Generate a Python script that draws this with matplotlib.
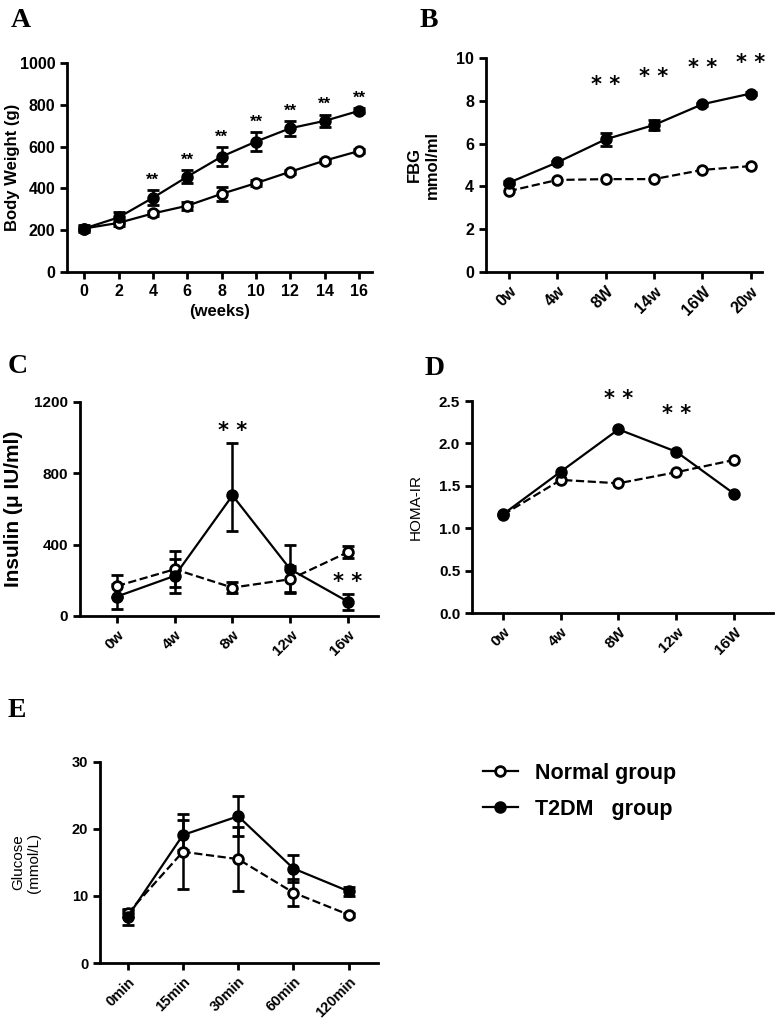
import matplotlib
matplotlib.use("Agg")
import matplotlib.pyplot as plt
from matplotlib.lines import Line2D
import numpy as np

plt.rcParams['font.family'] = ['Liberation Sans', 'DejaVu Sans']
plt.rcParams['font.weight'] = 'bold'

# ---------------- data ----------------
# Panel A: body weight
a_weeks = [0, 2, 4, 6, 8, 10, 12, 14, 16]
a_normal = [208, 235, 280, 317, 374, 425, 480, 533, 579]
a_normal_err = [15, 15, 12, 20, 35, 15, 10, 10, 10]
a_t2dm = [208, 261, 355, 456, 552, 624, 688, 723, 771]
a_t2dm_err = [12, 25, 35, 30, 45, 45, 35, 30, 12]
a_star_weeks = [4, 6, 8, 10, 12, 14, 16]

# Panel B: FBG
b_labels = ['0w', '4w', '8W', '14w', '16W', '20w']
b_normal = [3.78, 4.30, 4.34, 4.34, 4.77, 4.95]
b_t2dm = [4.17, 5.12, 6.20, 6.87, 7.84, 8.34]
b_t2dm_err = [0.08, 0.08, 0.30, 0.25, 0.08, 0.08]
b_star_idx = [2, 3, 4, 5]
b_star_y = [8.75, 9.1, 9.53, 9.77]

# Panel C: insulin
c_labels = ['0w', '4w', '8w', '12w', '16w']
c_normal = [168, 262, 159, 206, 358]
c_normal_err = [60, 100, 33, 73, 35]
c_t2dm = [109, 225, 676, 262, 80]
c_t2dm_err_low = [70, 95, 199, 135, 45]
c_t2dm_err_high = [70, 95, 294, 137, 45]
c_star_idx = [2, 4]
c_star_y = [1035, 193]

# Panel D: HOMA-IR
d_labels = ['0w', '4w', '8W', '12w', '16W']
d_normal = [1.16, 1.57, 1.53, 1.66, 1.805]
d_t2dm = [1.166, 1.668, 2.166, 1.903, 1.409]
d_star_idx = [2, 3]
d_star_y = [2.53, 2.35]

# Panel E: glucose tolerance
e_labels = ['0min', '15min', '30min', '60min', '120min']
e_normal = [7.4, 16.6, 15.5, 10.5, 7.2]
e_normal_err = [0.5, 5.6, 4.8, 2.0, 0.3]
e_t2dm = [6.9, 19.1, 21.9, 14.1, 10.7]
e_t2dm_err = [1.2, 2.3, 3.0, 2.0, 0.7]

# ---------------- figure ----------------
fig = plt.figure(figsize=(7.77, 10.21), dpi=100)

LW = 1.6
MS = 7


def style_axes(ax, fs=10):
    for s in ['top', 'right']:
        ax.spines[s].set_visible(False)
    for s in ['left', 'bottom']:
        ax.spines[s].set_linewidth(2.0)
    ax.tick_params(axis='both', width=2.0, length=5, labelsize=fs, direction='out')
    for lab in ax.get_xticklabels() + ax.get_yticklabels():
        lab.set_fontweight('bold')


def plot_series(ax, x, y, err=None, dashed=False, filled=False):
    ls = '--' if dashed else '-'
    mfc = 'black' if filled else 'white'
    ax.errorbar(x, y, yerr=err, color='black', ls=ls, lw=LW, marker='o', ms=MS,
                mfc=mfc, mec='black', mew=2.0, capsize=4, capthick=2.0,
                elinewidth=1.8, clip_on=False, zorder=3)


def rot_labels(ax, labels, fs=10):
    ax.set_xticks(range(len(labels)))
    ax.set_xticklabels(labels, rotation=45, ha='right', va='top',
                       rotation_mode='anchor', fontsize=fs, fontweight='bold')


# ---- A ----
axA = fig.add_axes([0.0862, 0.7336, 0.3925, 0.2047])
plot_series(axA, a_weeks, a_normal, a_normal_err, filled=False)
plot_series(axA, a_weeks, a_t2dm, a_t2dm_err, filled=True)
for w in a_star_weeks:
    i = a_weeks.index(w)
    axA.text(w, a_t2dm[i] + a_t2dm_err[i] + 12, '**', ha='center', va='bottom',
             fontsize=12, fontweight='bold')
axA.set_xlim(-1.0, 16.75)
axA.set_ylim(0, 1000)
axA.set_xticks(a_weeks)
axA.set_yticks([0, 200, 400, 600, 800, 1000])
axA.set_xlabel('(weeks)', fontsize=12, fontweight='bold')
axA.set_ylabel('Body Weight (g)', fontsize=12, fontweight='bold')
axA.yaxis.set_label_coords(-0.155, 0.5)
style_axes(axA, 11.5)

# ---- B ----
axB = fig.add_axes([0.6255, 0.7336, 0.3552, 0.2096])
xb = np.arange(len(b_labels))
plot_series(axB, xb, b_normal, None, dashed=True, filled=False)
plot_series(axB, xb, b_t2dm, b_t2dm_err, filled=True)
for i, yv in zip(b_star_idx, b_star_y):
    axB.text(i, yv, '* *', ha='center', va='center', fontsize=15,
             fontweight='bold', family='DejaVu Sans')
axB.set_xlim(-0.47, 5.23)
axB.set_ylim(0, 10)
axB.set_yticks([0, 2, 4, 6, 8, 10])
rot_labels(axB, b_labels, 11.5)
axB.set_ylabel('FBG\nmmol/ml', fontsize=12, fontweight='bold', labelpad=12)
style_axes(axB, 11.5)

# ---- C ----
axC = fig.add_axes([0.103, 0.3967, 0.3835, 0.2096])
xc = np.arange(len(c_labels))
plot_series(axC, xc, c_normal, c_normal_err, dashed=True, filled=False)
plot_series(axC, xc, c_t2dm, [c_t2dm_err_low, c_t2dm_err_high], filled=True)
for i, yv in zip(c_star_idx, c_star_y):
    axC.text(i, yv, '* *', ha='center', va='center', fontsize=15,
             fontweight='bold', family='DejaVu Sans')
axC.set_xlim(-0.64, 4.52)
axC.set_ylim(0, 1200)
axC.set_yticks([0, 400, 800, 1200])
rot_labels(axC, c_labels, 11)
axC.set_ylabel('Insulin (μ IU/ml)', fontsize=15, fontweight='bold', labelpad=8)
style_axes(axC, 11)

# ---- D ----
axD = fig.add_axes([0.6075, 0.3996, 0.3874, 0.2076])
xd = np.arange(len(d_labels))
plot_series(axD, xd, d_normal, None, dashed=True, filled=False)
plot_series(axD, xd, d_t2dm, None, filled=True)
for i, yv in zip(d_star_idx, d_star_y):
    axD.text(i, yv, '* *', ha='center', va='center', fontsize=15,
             fontweight='bold', family='DejaVu Sans', clip_on=False)
axD.set_xlim(-0.54, 4.68)
axD.set_ylim(0, 2.5)
axD.set_yticks([0.0, 0.5, 1.0, 1.5, 2.0, 2.5])
axD.set_yticklabels(['0.0', '0.5', '1.0', '1.5', '2.0', '2.5'])
rot_labels(axD, d_labels, 11)
axD.set_ylabel('HOMA-IR', fontsize=11, fontweight='normal', labelpad=12)
style_axes(axD, 11)

# ---- E ----
axE = fig.add_axes([0.1287, 0.0568, 0.3578, 0.1969])
xe = np.arange(len(e_labels))
plot_series(axE, xe, e_normal, e_normal_err, dashed=True, filled=False)
plot_series(axE, xe, e_t2dm, e_t2dm_err, filled=True)
axE.set_xlim(-0.5, 4.53)
axE.set_ylim(0, 30)
axE.set_yticks([0, 10, 20, 30])
rot_labels(axE, e_labels, 10.5)
axE.set_ylabel('Glucose\n(mmol/L)', fontsize=11, fontweight='normal', labelpad=22)
style_axes(axE, 10.5)

# ---- legend ----
handles = [
    Line2D([0], [0], color='black', lw=LW, marker='o', ms=MS, mfc='white',
           mec='black', mew=2.0),
    Line2D([0], [0], color='black', lw=LW, marker='o', ms=MS, mfc='black',
           mec='black', mew=2.0),
]
fig.legend(handles, ['Normal group', 'T2DM   group'], loc='center left',
           bbox_to_anchor=(0.597, 0.225), frameon=False, handlelength=1.6,
           handletextpad=0.8, labelspacing=0.7,
           prop={'size': 15.5, 'weight': 'bold'})

# ---- panel letters ----
for lbl, x, y in [('A', 0.014, 0.992), ('B', 0.540, 0.992), ('C', 0.010, 0.653),
                  ('D', 0.547, 0.651), ('E', 0.010, 0.316)]:
    fig.text(x, y, lbl, fontsize=20, fontweight='bold', family='Liberation Serif',
             ha='left', va='top')

fig.savefig('out.png', dpi=100)
